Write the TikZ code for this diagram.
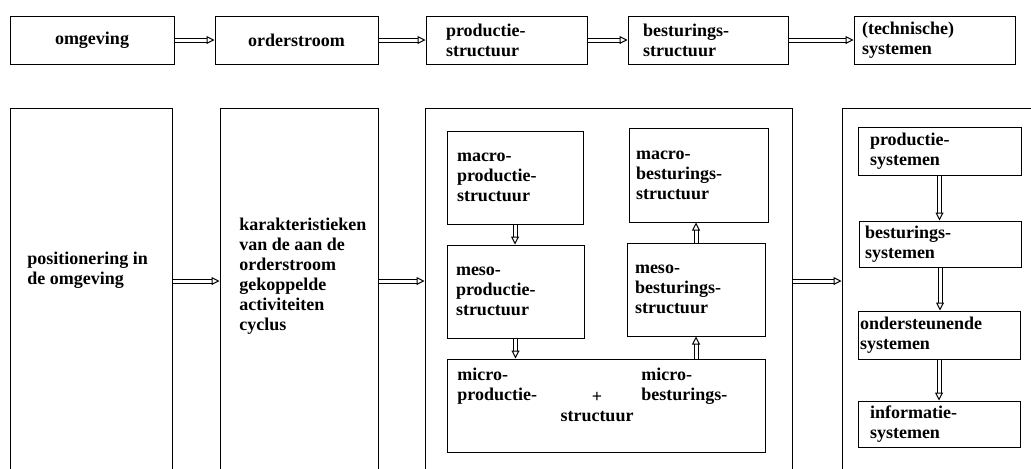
\documentclass[tikz,border=0pt]{standalone}
\usepackage{fontspec}
\setmainfont{Liberation Serif}
\usetikzlibrary{arrows.meta}
\begin{document}
\begin{tikzpicture}[
        x=0.5pt, y=-0.5pt,
        every node/.style={font=\bfseries\fontsize{9}{10}\selectfont, inner sep=0pt},
        box/.style={draw, line width=0.5pt, minimum height=24pt, align=left},
        groot/.style={draw, line width=0.5pt, minimum height=196pt},
        pijl/.style={double, double distance=1.5pt, line width=0.5pt, -{Triangle[open, length=4pt, width=4pt]}},
    ]
    \useasboundingbox (0,0) rectangle (1031,468);
    \clip (0,0) rectangle (1031,468);
    % bovenste rij
    \node[box, minimum width=82pt, align=center](omgeving) at (92,40){omgeving};
    \node[box, minimum width=81.5pt, align=center](orderstroom) at (296.5,40){orderstroom};
    \node[box, text width=60.5pt, inner xsep=10pt](prodstruc) at (506.5,40){productie-\\structuur};
    \node[box, text width=65pt, inner xsep=7.5pt](bestruc) at (708,40){besturings-\\structuur};
    \node[box, text width=72.5pt, inner xsep=4pt](techsys) at (934.5,40){(technische)\\systemen};
    \draw[pijl] (omgeving) -- (orderstroom);
    \draw[pijl] (orderstroom) -- (prodstruc);
    \draw[pijl] (prodstruc) -- (bestruc);
    \draw[pijl] (bestruc) -- (techsys);
    % onderste rij
    \node[groot, minimum width=81pt](pos) at (91,304){};
    \node[groot, minimum width=79pt](kar) at (299,304){};
    \node[groot, minimum width=183.5pt](struc) at (608.5,304){};
    \node[groot, minimum width=104pt](sys) at (946,304){};
    \node[anchor=west, align=left](posT) at (27,270){positionering in\\de omgeving};
    \node[anchor=west, align=left](karT) at (239,276){karakteristieken\\van de aan de\\orderstroom\\gekoppelde\\activiteiten\\cyclus};
    \coordinate (midden) at (0,281);
    \draw[pijl] (pos.east |- midden) -- (kar.west |- midden);
    \draw[pijl] (kar.east |- midden) -- (struc.west |- midden);
    \draw[pijl] (struc.east |- midden) -- (sys.west |- midden);
    % structuren
    \node[box, text width=58pt, inner xsep=5pt, minimum height=46.5pt](macroP) at (515,177.5){macro-\\productie-\\structuur};
    \node[box, text width=62.5pt, inner xsep=3.5pt, minimum height=47pt](macroB) at (698.5,175){macro-\\besturings-\\structuur};
    \node[box, text width=59.5pt, inner xsep=4.5pt, minimum height=46.5pt](mesoP) at (515.5,291.5){meso-\\productie-\\structuur};
    \node[box, text width=61pt, inner xsep=4pt, minimum height=46.5pt](mesoB) at (696,289.5){meso-\\besturings-\\structuur};
    \node[box, minimum width=159pt, minimum height=46.5pt](micro) at (606,405.5){};
    \node[anchor=north west, align=left](microP) at (457,368){micro-\\productie-};
    \node[anchor=north west, align=left](microB) at (641,368){micro-\\besturings-};
    \node(plus) at (597,397){+};
    \node(microS) at (597,417){structuur};
    \draw[pijl] (macroP.south) -- (macroP.south |- mesoP.north);
    \draw[pijl] (mesoP.south) -- (mesoP.south |- micro.north);
    \draw[pijl] (mesoB.south |- micro.north) -- (mesoB.south);
    \draw[pijl] (mesoB.north) -- (mesoB.north |- macroB.south);
    % systemen
    \node[box, text width=69.5pt, inner xsep=6pt](prodsys) at (939.5,151){productie-\\systemen};
    \node[box, text width=75pt, inner xsep=3pt, minimum height=23pt](bestsys) at (940,244){besturings-\\systemen};
    \node[box, text width=79pt, inner xsep=1pt](ondsys) at (939,335){ondersteunende\\systemen};
    \node[box, text width=69pt, inner xsep=6pt, minimum height=23pt](infsys) at (939,424){informatie-\\systemen};
    \draw[pijl] (prodsys.south) -- (prodsys.south |- bestsys.north);
    \draw[pijl] (bestsys.south) -- (bestsys.south |- ondsys.north);
    \draw[pijl] (ondsys.south) -- (ondsys.south |- infsys.north);
\end{tikzpicture}
\end{document}
